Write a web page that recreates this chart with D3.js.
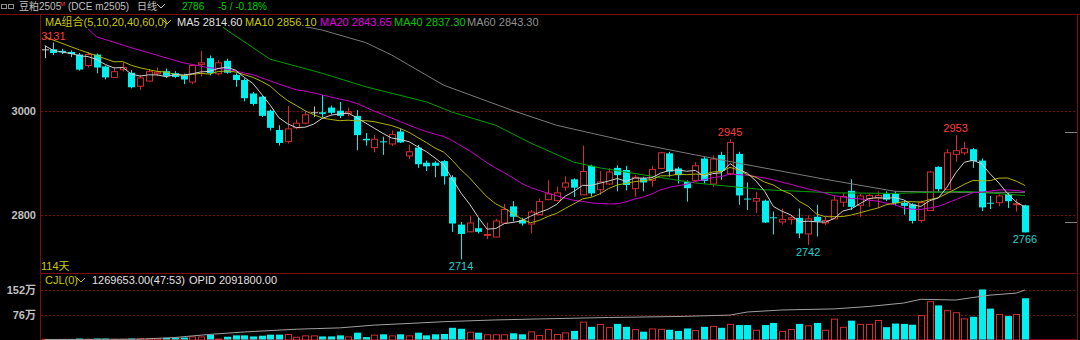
<!DOCTYPE html>
<html>
<head>
<meta charset="utf-8">
<script src="https://cdn.jsdelivr.net/npm/d3@7"></script>
<style>
  body { margin: 0; background: #000; }
  svg { display: block; font-family: "Liberation Sans", Arial, "Noto Sans CJK SC", sans-serif; }
</style>
</head>
<body>
<div class="canvas"></div>
<script>
// daily bars, 豆粕2505, 114 days
const opens = [3118,3118,3115,3113,3108,3088,3108,3085,3065,3080,3073,3048,3058,3072,3076,3072,3068,3056,3090,3101,
  3072,3096,3069,3059,3033,3027,3000,2963,2942,2968,2977,2997,2997,3006,3000,2996,2990,2946,2930,2941,
  2937,2960,2914,2929,2900,2900,2903,2872,2781,2768,2774,2762,2758,2785,2816,2790,2783,2801,2830,2828,
  2854,2868,2839,2894,2849,2860,2890,2886,2851,2870,2867,2890,2918,2889,2863,2867,2908,2860,2915,2880,
  2917,2831,2827,2827,2795,2787,2792,2794,2764,2796,2785,2793,2825,2846,2819,2832,2833,2840,2840,2823,
  2820,2790,2809,2892,2849,2917,2920,2926,2904,2823,2824,2840,2821,2818];
const highs = [3125,3131,3119,3116,3111,3113,3110,3087,3083,3093,3078,3069,3080,3083,3081,3076,3071,3090,3115,3106,
  3097,3100,3072,3062,3036,3029,3002,2972,3009,2983,2998,3008,3030,3010,3017,3006,3001,2957,2953,2950,
  2962,2966,2935,2934,2904,2903,2905,2876,2786,2797,2794,2785,2792,2821,2826,2794,2809,2831,2866,2854,
  2874,2870,2933,2896,2884,2890,2895,2894,2876,2873,2894,2921,2921,2892,2866,2901,2911,2914,2921,2945,
  2921,2862,2844,2829,2806,2812,2797,2812,2799,2819,2796,2837,2841,2868,2840,2841,2845,2845,2845,2828,
  2822,2827,2884,2893,2926,2953,2940,2928,2908,2836,2839,2842,2830,2819];
const lows = [3101,3107,3109,3103,3077,3083,3072,3060,3063,3075,3043,3040,3056,3066,3063,3063,3051,3051,3066,3068,
  3068,3071,3046,3018,3010,2988,2962,2933,2937,2964,2974,2988,2987,2993,2986,2989,2924,2933,2920,2915,
  2932,2938,2907,2890,2884,2872,2858,2767,2714,2767,2764,2753,2757,2783,2787,2779,2764,2800,2828,2826,
  2846,2834,2838,2835,2838,2857,2845,2847,2835,2845,2854,2888,2873,2860,2825,2863,2860,2854,2867,2876,
  2819,2809,2803,2784,2762,2781,2781,2755,2742,2758,2780,2792,2815,2809,2796,2815,2812,2826,2818,2800,
  2783,2785,2807,2843,2847,2902,2915,2890,2807,2811,2816,2813,2806,2766];
const closes = [3118,3111,3112,3109,3079,3109,3083,3064,3076,3084,3045,3064,3076,3075,3067,3065,3060,3088,3093,3072,
  3093,3073,3059,3024,3013,2990,2967,2938,2966,2977,2993,2997,2994,2996,2990,2999,2953,2943,2946,2940,
  2955,2939,2922,2897,2893,2894,2874,2783,2763,2785,2767,2763,2789,2811,2796,2783,2806,2826,2841,2843,
  2862,2852,2884,2841,2864,2883,2876,2857,2873,2862,2888,2920,2883,2876,2851,2895,2865,2908,2884,2940,
  2837,2830,2832,2785,2794,2792,2795,2764,2793,2787,2790,2829,2836,2815,2837,2838,2838,2829,2822,2817,
  2788,2824,2883,2849,2920,2924,2928,2903,2814,2822,2837,2826,2822,2766];
// volume, 万手
const volumes = [2,1,1,1.5,3,2,3,3,2,2,3,4,4,4,5,5,6,9.5,9.5,15,
  3,8.5,12.7,12.7,9.5,11.7,15,15,17,8.5,12.7,12.7,9.5,9.5,12.7,9.5,21,7.4,15,16,
  12.7,16,12.7,21,12.7,16,17,36,33,24,21,16,16,16,19,16,25,14,32,17,
  22,26.5,55,39,48,38,48,39,32,24,34,33,30,26.5,34,29,39,42,36,48,
  44.5,44.5,30,44.5,51,26.5,32,48,43.5,51,30,64,39,58,48,48,60,38,49,48,
  45.5,75,118,105,90,84,65,70,154,95,78.5,72,78.5,127];

// moving-average values read where the window starts before the visible bars
const ma5Lead = [[0, 3125], [1, 3116], [2, 3113], [3, 3110]];
const ma10Lead = [[0, 3142], [4, 3117], [8, 3094]];
const ma20Lead = [[5, 3157], [6, 3142], [10, 3121], [16, 3092]];
const ma40Pts = [[20, 3168], [21, 3155], [26, 3099], [32, 3072], [37, 3046], [44, 3017], [47, 2997], [52, 2972],
  [56, 2938], [61, 2901], [64, 2890], [70, 2874], [75, 2861], [83, 2848], [91, 2842], [98, 2841], [106, 2845], [113, 2837]];
const ma60Pts = [[29, 3165], [32, 3155], [37, 3131], [40, 3107], [46, 3049], [54, 3000], [59, 2972], [68, 2938],
  [75, 2915], [80, 2899], [90, 2868], [98, 2845], [105, 2843], [113, 2843]];
// open interest, 万手
const opidPts = [[0, 150], [11, 150.4], [15, 152.4], [19, 156.1], [23, 159], [29, 162.3], [34, 163.9], [38, 167.2],
  [42, 169.2], [46, 171.3], [52, 173.4], [57, 174.6], [65, 176.3], [73, 177.5], [79, 179.2], [81, 182.9],
  [85, 185.3], [91, 186.6], [95, 189.5], [99, 193.6], [101, 198.1], [105, 197.2], [107, 200.2], [109, 203.1],
  [112, 205.5], [113, 209.2]];

const priceTicks = [3000, 2800];
const volTicks = [152, 76];
const highMarks = [1, 79, 105];
const lowMarks = [48, 88, 113];
const priceMarks = [2960, 2786];

const W = 1080, H = 340;
const plot = { left: 40, right: 1077, top: 27, bottom: 273 };
const N = closes.length;
const idx = d3.range(N);

const colors = {
  up: '#d22c2c', down: '#00f0f0', flat: '#c8c8c8',
  axis: '#7c0c0c', label: '#c0c0c0',
  ma5: '#d0d0d0', ma10: '#b4b400', ma20: '#c800c8', ma40: '#00a000', ma60: '#7a7a7a'
};

const svg = d3.select('.canvas')
  .append('svg')
  .attr('width', W)
  .attr('height', H);

svg.append('defs').append('clipPath').attr('id', 'pclip')
  .append('rect')
  .attr('x', plot.left + 1).attr('y', plot.top)
  .attr('width', plot.right - plot.left - 1).attr('height', plot.bottom - plot.top);

// scales
const x = d3.scaleLinear().domain([0, N - 1]).range([44.7, 1025]);
const y = d3.scaleLinear().domain([2800, 3000]).range([214.7, 110.7]);
const yv = d3.scaleLinear().domain([0, 152]).range([339.5, 290.1]);
const yo = d3.scaleLinear().domain([150, 209.2]).range([339.5, 290]);
const bw = 7;
const px = v => Math.round(v) + 0.5;

// frame
const frame = svg.append('g').attr('stroke', colors.axis).attr('stroke-width', 1).attr('fill', 'none');
frame.append('line').attr('x1', 0).attr('x2', W).attr('y1', 14.5).attr('y2', 14.5);
frame.append('line').attr('x1', plot.left + 0.5).attr('x2', plot.left + 0.5).attr('y1', 14).attr('y2', H);
frame.append('line').attr('x1', plot.right + 0.5).attr('x2', plot.right + 0.5).attr('y1', 14).attr('y2', H);
frame.append('line').attr('x1', plot.left).attr('x2', plot.right).attr('y1', 273.5).attr('y2', 273.5);
frame.append('line').attr('x1', plot.left).attr('x2', plot.right).attr('y1', 339.5).attr('y2', 339.5);

// grid
const grid = svg.append('g').attr('stroke', colors.axis).attr('stroke-dasharray', '2,2');
grid.selectAll('.pg').data(priceTicks).enter().append('line')
  .attr('x1', plot.left + 1).attr('x2', plot.right)
  .attr('y1', d => px(y(d))).attr('y2', d => px(y(d)));
grid.selectAll('.vg').data(volTicks).enter().append('line')
  .attr('x1', plot.left + 1).attr('x2', plot.right)
  .attr('y1', d => px(yv(d))).attr('y2', d => px(yv(d)));

// axes labels
const yAxis = d3.axisLeft(y).tickValues(priceTicks).tickSize(0).tickPadding(3).tickFormat(d3.format('d'));
const gy = svg.append('g').attr('transform', `translate(${plot.left - 1},0)`).call(yAxis);
const vAxis = d3.axisLeft(yv).tickValues(volTicks).tickSize(0).tickPadding(3).tickFormat(d => d + '万');
const gv = svg.append('g').attr('transform', `translate(${plot.left - 1},0)`).call(vAxis);
[gy, gv].forEach(g => {
  g.select('.domain').remove();
  g.selectAll('text').attr('fill', colors.label).attr('font-size', '11px').attr('font-weight', 'bold')
    .attr('font-family', '"Liberation Sans", Arial, "Noto Sans CJK SC", sans-serif');
});

// candles
const candle = svg.append('g').attr('clip-path', 'url(#pclip)');
const colorOf = i => closes[i] > opens[i] ? colors.up : closes[i] < opens[i] ? colors.down : colors.flat;

candle.selectAll('.wick').data(idx).enter().append('line')
  .attr('x1', i => px(x(i))).attr('x2', i => px(x(i)))
  .attr('y1', i => y(highs[i])).attr('y2', i => y(lows[i]))
  .attr('stroke', colorOf);

candle.selectAll('.body').data(idx).enter().append('rect')
  .attr('x', i => Math.round(x(i)) - 3 + (closes[i] > opens[i] ? 0.5 : 0))
  .attr('y', i => y(Math.max(opens[i], closes[i])) + (closes[i] > opens[i] ? 0.5 : 0))
  .attr('width', i => closes[i] > opens[i] ? bw - 1 : bw)
  .attr('height', i => Math.max(1, y(Math.min(opens[i], closes[i])) - y(Math.max(opens[i], closes[i]))))
  .attr('fill', i => closes[i] > opens[i] ? '#000' : colorOf(i))
  .attr('stroke', i => closes[i] > opens[i] ? colors.up : 'none');

// moving averages
const lineGen = d3.line().x(d => x(d[0])).y(d => y(d[1]));
const movingAvg = n => idx.filter(i => i >= n - 1).map(i => [i, d3.mean(closes.slice(i - n + 1, i + 1))]);
const maSeries = [
  { pts: ma60Pts, c: colors.ma60 },
  { pts: ma40Pts, c: colors.ma40 },
  { pts: ma20Lead.concat(movingAvg(20)), c: colors.ma20 },
  { pts: ma10Lead.concat(movingAvg(10)), c: colors.ma10 },
  { pts: ma5Lead.concat(movingAvg(5)), c: colors.ma5 }
];
const maG = svg.append('g').attr('clip-path', 'url(#pclip)');
maG.selectAll('path').data(maSeries).enter().append('path')
  .attr('d', d => lineGen(d.pts))
  .attr('fill', 'none')
  .attr('stroke', d => d.c)
  .attr('stroke-width', 1);

// extreme labels
const markG = svg.append('g').attr('font-size', '11px').attr('text-anchor', 'middle');
markG.selectAll('.hi').data(highMarks).enter().append('text')
  .attr('x', i => Math.max(plot.left + 13, x(i)))
  .attr('y', i => y(highs[i]) - 3)
  .attr('fill', '#ff3c3c')
  .text(i => highs[i]);
markG.selectAll('.lo').data(lowMarks).enter().append('text')
  .attr('x', i => x(i))
  .attr('y', i => y(lows[i]) + 11)
  .attr('fill', '#20d0d0')
  .text(i => lows[i]);

// right side price marks
svg.selectAll('.pm').data(priceMarks).enter().append('line')
  .attr('x1', plot.right - 12).attr('x2', plot.right)
  .attr('y1', d => px(y(d))).attr('y2', d => px(y(d)))
  .attr('stroke', '#808080');

// volume bars
const volG = svg.append('g');
volG.selectAll('rect').data(idx).enter().append('rect')
  .attr('x', i => Math.round(x(i)) - 3 + (closes[i] >= opens[i] ? 0.5 : 0))
  .attr('y', i => yv(volumes[i]) + (closes[i] >= opens[i] ? 0.5 : 0))
  .attr('width', i => closes[i] >= opens[i] ? bw - 1 : bw)
  .attr('height', i => Math.max(1, yv(0) - yv(volumes[i])))
  .attr('fill', i => closes[i] >= opens[i] ? '#000' : colors.down)
  .attr('stroke', i => closes[i] >= opens[i] ? colors.up : 'none');

// open interest line
svg.append('path')
  .attr('d', d3.line().x(d => x(d[0])).y(d => yo(d[1]))(opidPts))
  .attr('fill', 'none')
  .attr('stroke', '#a0a0a0');

// header texts
const chevron = (g, cx, cy, c) => g.append('path')
  .attr('d', `M${cx - 4},${cy - 2} L${cx},${cy + 2} L${cx + 4},${cy - 2}`)
  .attr('fill', 'none').attr('stroke', c);

const head = svg.append('g').attr('font-size', '11px');
const headTop = head.append('g').attr('font-size', '10px');
headTop.append('rect').attr('x', 1.5).attr('y', 4.5).attr('width', 5).attr('height', 4).attr('fill', 'none').attr('stroke', '#909090');
headTop.append('rect').attr('x', 8.5).attr('y', 4.5).attr('width', 5).attr('height', 4).attr('fill', 'none').attr('stroke', '#909090');
headTop.append('text').attr('x', 19).attr('y', 10).attr('fill', colors.label).text('豆粕2505');
headTop.append('text').attr('x', 60).attr('y', 6).attr('font-size', '6px').attr('fill', '#ff3c3c').text('M');
headTop.append('text').attr('x', 68).attr('y', 10).attr('fill', colors.label).text('(DCE m2505)');
headTop.append('text').attr('x', 137).attr('y', 10).attr('fill', colors.label).text('日线');
chevron(headTop, 161, 6, colors.label);
headTop.append('text').attr('x', 182).attr('y', 10).attr('fill', '#00d000').text('2786');
headTop.append('text').attr('x', 218).attr('y', 10).attr('fill', '#00d000').text('-5 / -0.18%');

const maLegend = [
  { t: 'MA组合(5,10,20,40,60,0)', x: 45, c: '#c8c800' },
  { t: 'MA5 2814.60', x: 177, c: '#e0e0e0' },
  { t: 'MA10 2856.10', x: 245, c: '#c8c800' },
  { t: 'MA20 2843.65', x: 320, c: '#e000e0' },
  { t: 'MA40 2837.30', x: 394, c: '#00c800' },
  { t: 'MA60 2843.30', x: 467, c: '#909090' }
];
head.selectAll('.leg').data(maLegend).enter().append('text')
  .attr('x', d => d.x).attr('y', 26).attr('fill', d => d.c).text(d => d.t);
chevron(head, 167, 22, '#c8c800');

head.append('text').attr('x', 41).attr('y', 270).attr('fill', '#c8c800').text('114天');

head.append('text').attr('x', 45).attr('y', 284).attr('fill', '#c8c800').text('CJL(0)');
chevron(head, 81, 280, '#c8c800');
head.append('text').attr('x', 92).attr('y', 284).attr('fill', '#e0e0e0').text('1269653.00(47:53)');
head.append('text').attr('x', 189).attr('y', 284).attr('fill', '#e0e0e0').text('OPID 2091800.00');
</script>
</body>
</html>
